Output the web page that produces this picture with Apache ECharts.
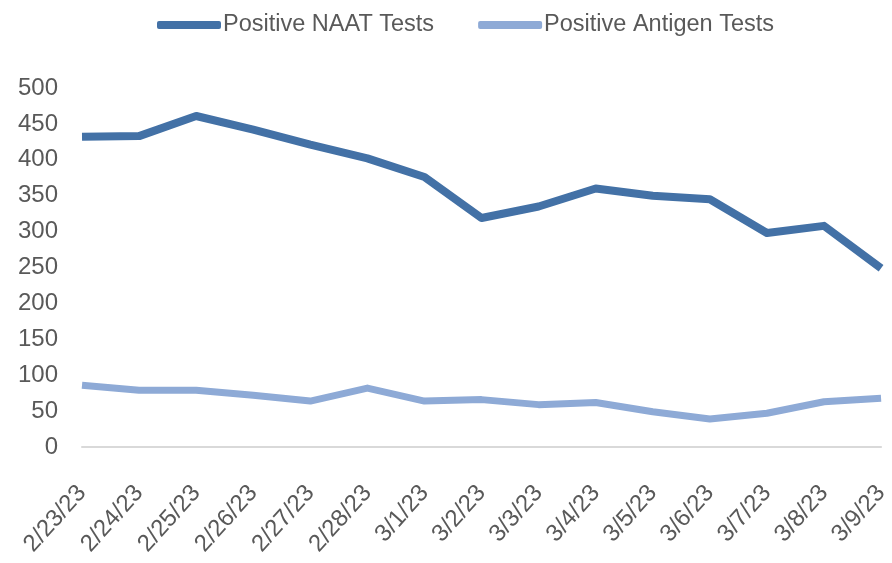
<!DOCTYPE html>
<html>
<head>
<meta charset="utf-8">
<style>
  html, body { margin: 0; padding: 0; background: #fff; }
  #chart { width: 892px; height: 563px; }
</style>
<script src="https://cdn.jsdelivr.net/npm/echarts@6/dist/echarts.min.js"></script>
</head>
<body>
<div id="chart"></div>
<script>
const dates = ['2/23/23', '2/24/23', '2/25/23', '2/26/23', '2/27/23', '2/28/23', '3/1/23', '3/2/23',
  '3/3/23', '3/4/23', '3/5/23', '3/6/23', '3/7/23', '3/8/23', '3/9/23'];
const naatTests = [432, 433, 461, 442, 421, 402, 376, 319, 335, 360, 350, 345, 298, 308, 249];
const antigenTests = [86, 79, 79, 72, 64, 82, 64, 66, 59, 62, 49, 39, 47, 63, 68];

const textGrey = '#595959';
const font = 'Liberation Sans';

document.addEventListener('DOMContentLoaded', () => {
  const chart = echarts.init(document.getElementById('chart'));

  const option = {
    backgroundColor: '#fff',
    animation: false,
    legend: {
      top: 8,
      left: 152,
      icon: 'roundRect',
      itemWidth: 64,
      itemHeight: 8,
      itemGap: 44,
      textStyle: { color: textGrey, fontFamily: font, fontSize: 23.5, padding: [0, 0, 0, -3] },
      data: ['Positive NAAT Tests', 'Positive Antigen Tests']
    },
    grid: { left: 82, right: 8, top: 88, bottom: 116, containLabel: false },
    xAxis: {
      type: 'category',
      data: dates,
      boundaryGap: false,
      axisLine: { lineStyle: { color: '#d9d9d9', width: 2 } },
      axisTick: { show: false },
      axisLabel: {
        rotate: 48,
        interval: 0,
        margin: 42,
        color: textGrey,
        fontFamily: font,
        fontSize: 24
      }
    },
    yAxis: {
      type: 'value',
      min: 0,
      max: 500,
      interval: 50,
      axisLine: { show: false },
      axisTick: { show: false },
      splitLine: { show: false },
      axisLabel: { margin: 24, color: textGrey, fontFamily: font, fontSize: 24 }
    },
    series: [
      {
        name: 'Positive NAAT Tests',
        type: 'line',
        data: naatTests,
        showSymbol: false,
        color: '#4371a6',
        lineStyle: { width: 8, color: '#4371a6', join: 'round' }
      },
      {
        name: 'Positive Antigen Tests',
        type: 'line',
        data: antigenTests,
        showSymbol: false,
        color: '#8eaad6',
        lineStyle: { width: 7, color: '#8eaad6', join: 'round' }
      }
    ]
  };

  chart.setOption(option);
});
</script>
</body>
</html>
